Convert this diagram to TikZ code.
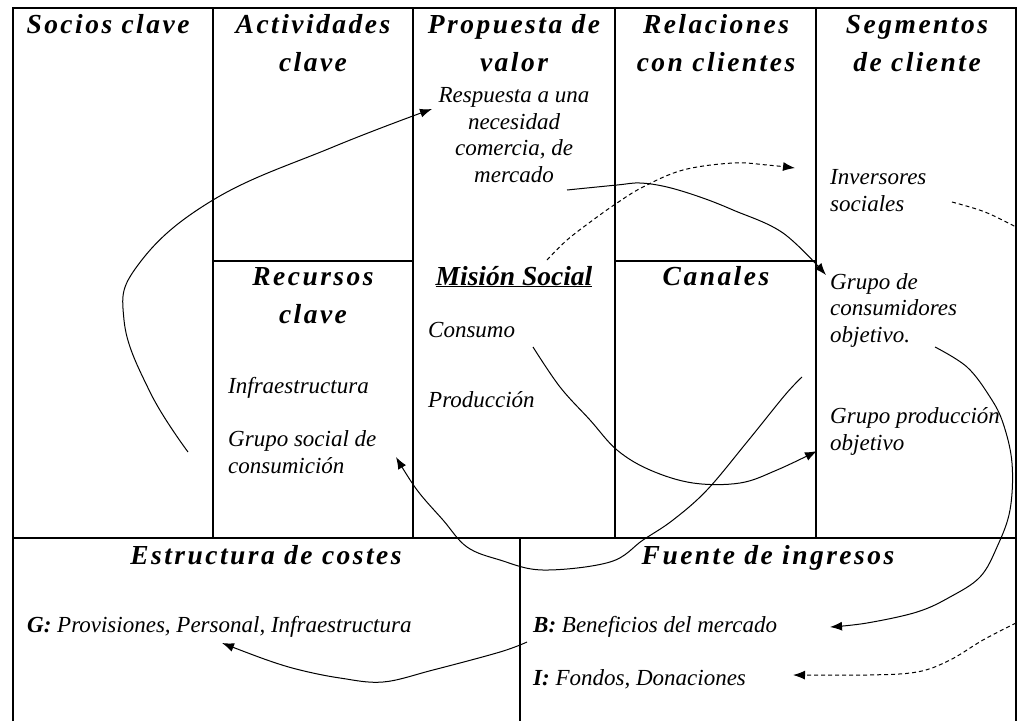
\documentclass[tikz,border=0pt]{standalone}
\usepackage{fontspec}
\setmainfont{Liberation Serif}
\newfontfamily\hfont[LetterSpace=9]{Liberation Serif Bold Italic}
\newfontfamily\mfont{Liberation Serif Bold Italic}
\usetikzlibrary{arrows.meta}
\tikzset{
  frame/.style={line width=1.6pt, black},
  head/.style={font=\hfont\fontsize{27.5}{38}\selectfont, inner sep=0pt, align=center, anchor=base},
  headns/.style={font=\mfont\fontsize{27.5}{38}\selectfont, inner sep=0pt, align=center, anchor=base},
  body/.style={font=\itshape\fontsize{23}{26.5}\selectfont, inner sep=0pt, anchor=base west, align=left},
  conn/.style={line width=1pt, -{Latex[length=12pt,width=9pt]}},
  dconn/.style={conn, dash pattern=on 4pt off 3pt},
}
\begin{document}
\begin{tikzpicture}[x=1pt,y=-1pt]
\useasboundingbox (0,0) rectangle (1019,721);
% frame
\draw[frame] (13,721) -- (13,8) -- (1016,8) -- (1016,721);
\draw[frame] (13,538) -- (1016,538);
\foreach \xx in {213,413,615,816} \draw[frame] (\xx,8) -- (\xx,538);
\draw[frame] (213,261) -- (413,261);
\draw[frame] (615,261) -- (816,261);
\draw[frame] (520,538) -- (520,721);
% headings (base anchor = baseline of last line)
\node[head] (socios) at (108,33) {Socios clave};
\node[head] (activ) at (313,71) {Actividades\\clave};
\node[head] (prop) at (514,71) {Propuesta de\\valor};
\node[head] (rel) at (716,71) {Relaciones\\con clientes};
\node[head] (seg) at (917,71) {Segmentos\\de cliente};
\node[head] (rec) at (313,323) {Recursos\\clave};
\node[headns] (mision) at (514,285) {\underline{Misión Social}};
\node[head] (can) at (716,285) {Canales};
\node[head] (costes) at (266,564) {Estructura de costes};
\node[head] (fuente) at (768,564) {Fuente de ingresos};
% body texts
\node[body, align=center, anchor=base] (resp) at (514,182) {Respuesta a una\\necesidad\\comercia, de\\mercado};
\node[body] (inv) at (830,211) {Inversores\\sociales};
\node[body] (gcons) at (830,342) {Grupo de\\consumidores\\objetivo.};
\node[body] (gprod) at (830,450) {Grupo producción\\objetivo};
\node[body] (consumo) at (428,337) {Consumo};
\node[body] (produc) at (428,407) {Producción};
\node[body] (infra) at (228,393) {Infraestructura};
\node[body] (gsoc) at (228,473) {Grupo social de\\consumición};
\node[body] (gast) at (27,632) {\textbf{G:} Provisiones, Personal, Infraestructura};
\node[body] (benef) at (533,632) {\textbf{B:} Beneficios del mercado};
\node[body] (fondos) at (533,685) {\textbf{I:} Fondos, Donaciones};
% connector end points
\coordinate (a1s) at (188,452); \coordinate (a1e) at (432,109);
\coordinate (a2s) at (567,190); \coordinate (a2e) at (826,275);
\coordinate (a3s) at (547,260); \coordinate (a3e) at (795,168);
\coordinate (a4s) at (952,202); \coordinate (a4e) at (1016,227);
\coordinate (a5s) at (1016,623); \coordinate (a5e) at (793,675);
\coordinate (a6s) at (935,347); \coordinate (a6e) at (830,627);
\coordinate (a7s) at (533,347); \coordinate (a7e) at (817,451);
\coordinate (a8s) at (802,377); \coordinate (a8e) at (396,457);
\coordinate (a9s) at (527,642); \coordinate (a9e) at (222,643);
% connectors
\draw[conn] plot[smooth, tension=0.7] coordinates {(a1s) (150,392) (124,320) (138,265) (213,200) (333,147) (a1e)};
\draw[conn] plot[smooth, tension=0.6] coordinates {(a2s) (617,185) (640,183) (667,187) (700,197) (733,210) (783,233) (a2e)};
\draw[dconn] plot[smooth, tension=0.6] coordinates {(a3s) (567,240) (593,220) (617,203) (643,187) (683,170) (733,163) (767,165) (a3e)};
\draw[line width=1pt, dash pattern=on 4pt off 3pt] plot[smooth, tension=0.6] coordinates {(a4s) (985,212) (a4e)};
\draw[dconn] plot[smooth, tension=0.6] coordinates {(a5s) (983,640) (950,660) (917,672) (867,675) (a5e)};
\draw[conn] plot[smooth, tension=0.6] coordinates {(a6s) (967,367) (990,397) (1003,423) (1012,463) (1010,510) (997,547) (980,577) (950,597) (917,612) (867,623) (a6e)};
\draw[conn] plot[smooth, tension=0.6] coordinates {(a7s) (560,387) (590,420) (617,450) (650,470) (693,483) (740,483) (777,470) (a7e)};
\draw[conn] plot[smooth, tension=0.6] coordinates {(a8s) (785,395) (747,442) (707,490) (673,520) (643,540) (610,562) (543,570) (500,560) (467,547) (443,520) (417,490) (a8e)};
\draw[conn] plot[smooth, tension=0.6] coordinates {(a9s) (500,652) (433,670) (383,682) (340,678) (300,670) (267,660) (a9e)};
\end{tikzpicture}
\end{document}
